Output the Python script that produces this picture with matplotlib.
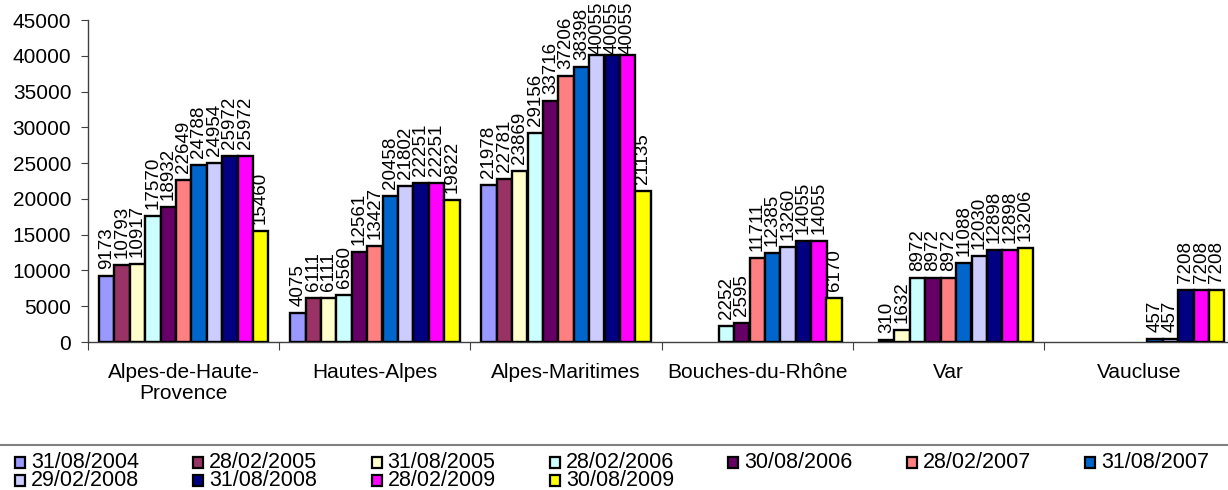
import matplotlib
matplotlib.use("Agg")
import matplotlib.pyplot as plt
import numpy as np
from matplotlib.patches import Rectangle
from matplotlib.lines import Line2D

plt.rcParams['font.family'] = ['Liberation Sans', 'DejaVu Sans']

categories = ["Alpes-de-Haute-\nProvence", "Hautes-Alpes", "Alpes-Maritimes",
              "Bouches-du-Rhône", "Var", "Vaucluse"]
series_names = ["31/08/2004", "28/02/2005", "31/08/2005", "28/02/2006", "30/08/2006",
                "28/02/2007", "31/08/2007", "29/02/2008", "31/08/2008", "28/02/2009",
                "30/08/2009"]
colors = ["#9999FF", "#993366", "#FFFFCC", "#CCFFFF", "#660066", "#FF8080",
          "#0066CC", "#CCCCFF", "#000080", "#FF00FF", "#FFFF00"]

# values per category (None = no data)
alpes_haute_provence = [9173, 10793, 10917, 17570, 18932, 22649, 24788, 24954, 25972, 25972, 15460]
hautes_alpes = [4075, 6111, 6111, 6560, 12561, 13427, 20458, 21802, 22251, 22251, 19822]
alpes_maritimes = [21978, 22781, 23869, 29156, 33716, 37206, 38398, 40055, 40055, 40055, 21135]
bouches_du_rhone = [None, None, None, 2252, 2595, 11711, 12385, 13260, 14055, 14055, 6170]
var = [None, 310, 1632, 8972, 8972, 8972, 11088, 12030, 12898, 12898, 13206]
vaucluse = [None, None, None, None, None, None, 457, 457, 7208, 7208, 7208]

data = [alpes_haute_provence, hautes_alpes, alpes_maritimes, bouches_du_rhone, var, vaucluse]
yticks = [0, 5000, 10000, 15000, 20000, 25000, 30000, 35000, 40000, 45000]

W, H = 1228, 490
fig = plt.figure(figsize=(W / 100, H / 100), dpi=100)
cat_px = 191.2
ax_left, ax_right = 88, 1228
ax_top, ax_bot = 20, 342
ax = fig.add_axes([ax_left / W, 1 - ax_bot / H, (ax_right - ax_left) / W, (ax_bot - ax_top) / H])

nser = len(series_names)
bw = 15.4 / cat_px
start = (1 - nser * bw) / 2
fs = 15
fs_leg = 15.5
fs_val = 13.5
label_offset = 5

annots = []
for s in range(nser):
    xs, hs = [], []
    for c in range(len(categories)):
        v = data[c][s]
        if v is None:
            continue
        xs.append(c + start + (s + 0.5) * bw)
        hs.append(v)
    ax.bar(xs, hs, width=bw, color=colors[s], edgecolor="black", linewidth=1.7, zorder=3)
    for x, h in zip(xs, hs):
        a = ax.annotate(str(h), (x, h), xytext=(0, label_offset), textcoords="offset points",
                        rotation=90, ha="center", va="bottom", fontsize=fs_val, zorder=4,
                        annotation_clip=False)
        annots.append(a)

ax.set_xlim(0, (ax_right - ax_left) / cat_px)
ax.set_ylim(0, 45000)
ax.set_yticks(yticks)
ax.set_yticklabels([str(t) for t in yticks], fontsize=fs)
ax.set_xticks(np.arange(0, 6))
ax.set_xticklabels([])
ax.set_xticks(np.arange(6) + 0.5, minor=True)
ax.set_xticklabels(categories, minor=True, fontsize=fs, linespacing=1.15)
ax.tick_params(axis="x", which="minor", length=0, pad=15)
ax.tick_params(axis="x", which="major", length=6, direction="out", color="#404040")
ax.tick_params(axis="y", length=5, direction="out", pad=7, color="#404040")
for sp in ["top", "right"]:
    ax.spines[sp].set_visible(False)
for sp in ["left", "bottom"]:
    ax.spines[sp].set_color("#404040")
    ax.spines[sp].set_linewidth(1.0)

# legend (row-major, 7 columns)
fig.add_artist(Line2D([0, 1], [1 - 445 / H, 1 - 445 / H], color="#808080", linewidth=1.5))
col_x = 15
pitch = 178.3
row_y = [462, 480]
for i, (name, col) in enumerate(zip(series_names, colors)):
    r, cidx = divmod(i, 7)
    x0 = col_x + cidx * pitch
    y0 = row_y[r]
    fig.add_artist(Rectangle((x0 / W, 1 - (y0 + 5.5) / H), 10 / W, 11 / H,
                             facecolor=col, edgecolor="black", linewidth=1.6,
                             transform=fig.transFigure))
    fig.text((x0 + 16) / W, 1 - y0 / H, name, fontsize=fs_leg, va="center", ha="left")

# keep value labels inside the figure (shift down like the original)
fig.canvas.draw()
renderer = fig.canvas.get_renderer()
for a in annots:
    bb = a.get_window_extent(renderer)
    excess = bb.y1 - (H - 2)
    if excess > 0:
        a.set_position((0, label_offset - excess * 72 / 100))

fig.savefig("out.png", dpi=100)
